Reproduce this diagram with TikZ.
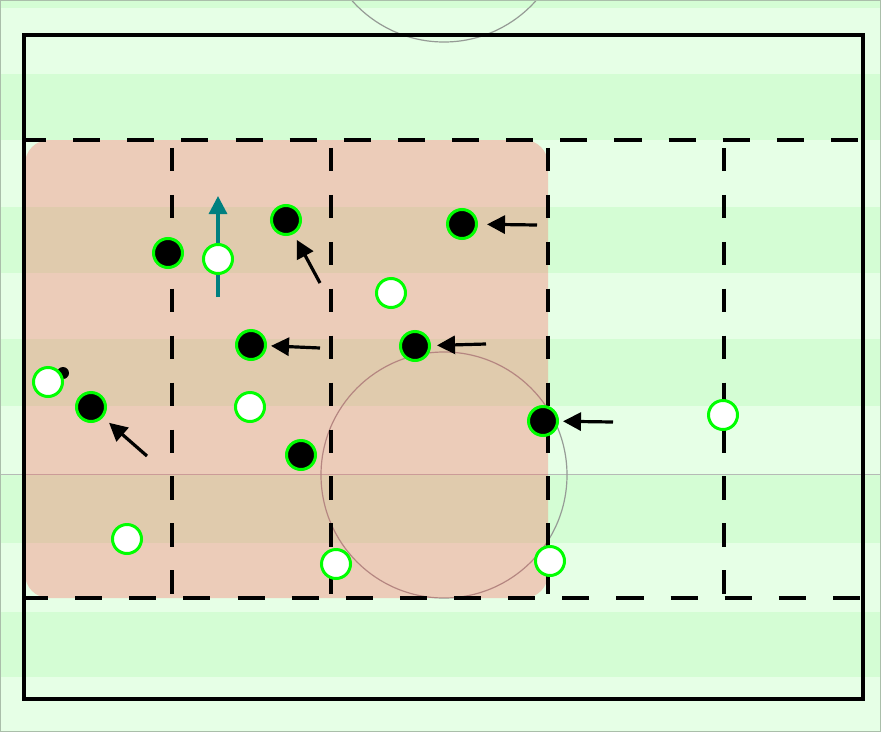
\documentclass[tikz,border=0pt]{standalone}
\usepackage{tikz}
\usetikzlibrary{arrows.meta}

\definecolor{lightgrass}{RGB}{230,255,230}
\definecolor{darkgrass}{RGB}{212,253,212}
\definecolor{zonered}{RGB}{253,88,83}
\definecolor{kitgreen}{RGB}{0,255,0}
\definecolor{runteal}{RGB}{0,128,128}
\definecolor{pitchline}{RGB}{150,155,150}
\definecolor{edgegray}{RGB}{170,190,170}

\begin{document}
\begin{tikzpicture}[x=0.75pt,y=-0.75pt]
            \tikzstyle{black player}=[circle,draw=kitgreen,line width=2.25pt,fill=black,inner sep=0,minimum size=21.75pt];
            \tikzstyle{white player}=[circle,draw=kitgreen,line width=2.25pt,fill=white,inner sep=0,minimum size=21.75pt];
            \tikzstyle{run arrow}=[-{Triangle[length=13.5pt,width=13.5pt]},line width=2.4pt];
            \tikzstyle{zone line}=[line width=2.5pt];
            \clip (0,0) rectangle (881,732);
            % grass stripes
            \fill[lightgrass] (0,0) rectangle (881,732);
            \foreach \a/\b in {0/8,74/140,207/273,339/406,474/543,612/677} \fill[darkgrass] (0,\a) rectangle (881,\b);
            \draw[pitchline!70,line width=0.75pt] (0,474)--(881,474);
            \draw[pitchline,line width=0.9pt] (444,475) circle[radius=123];
            \draw[pitchline,line width=0.9pt] (444,-81) circle[radius=123];
            % pressing zone
            \fill[zonered,opacity=0.3,rounded corners=18pt] (25,140) rectangle (548,598);
            \draw[zone line] (24,35) rectangle (863,699);
            \foreach \y/\p in {140/3.75,598/2.25} \draw[zone line,dash pattern=on 20.3pt off 20.3pt,dash phase=\p pt] (24,\y)--(863,\y);
            \foreach \x in {172,331,548,724} \draw[zone line,dash pattern=on 17.6pt off 17.6pt,dash phase=29.25pt] (\x,140)--(\x,598);
            % players
            \foreach \n/\x/\y in {b1/168/253,b2/286/220,b3/462/224,b4/251/345,b5/415/346,b6/91/407,b7/543/421,b8/301/455}
                \node[black player] (\n) at (\x,\y) {};
            \node[circle,fill=black,inner sep=0,minimum size=9pt] (ball) at (63,373) {};
            \coordinate (t2) at (320,283);
            \coordinate (t3) at (537,225);
            \coordinate (t4) at (320,348);
            \coordinate (t5) at (486,344);
            \coordinate (t6) at (147,456);
            \coordinate (t7) at (613,422);
            \foreach \t/\p/\s in {t2/b2/4.9,t3/b3/6.75,t4/b4/3,t5/b5/4.5,t6/b6/6,t7/b7/3}
                \draw[run arrow,shorten >=\s pt] (\t)--(\p);
            \coordinate (r0) at (218,297);
            \coordinate (r1) at (218,196);
            \draw[run arrow,runteal] (r0)--(r1);
            \foreach \n/\x/\y in {w1/218/259,w2/391/293,w3/48/382,w4/250/407,w5/127/539,w6/336/564,w7/550/561,w8/723/415}
                \node[white player] (\n) at (\x,\y) {};
            \draw[edgegray,line width=0.75pt] (0.5,0.5) rectangle (880.5,731.5);
\end{tikzpicture}
\end{document}
